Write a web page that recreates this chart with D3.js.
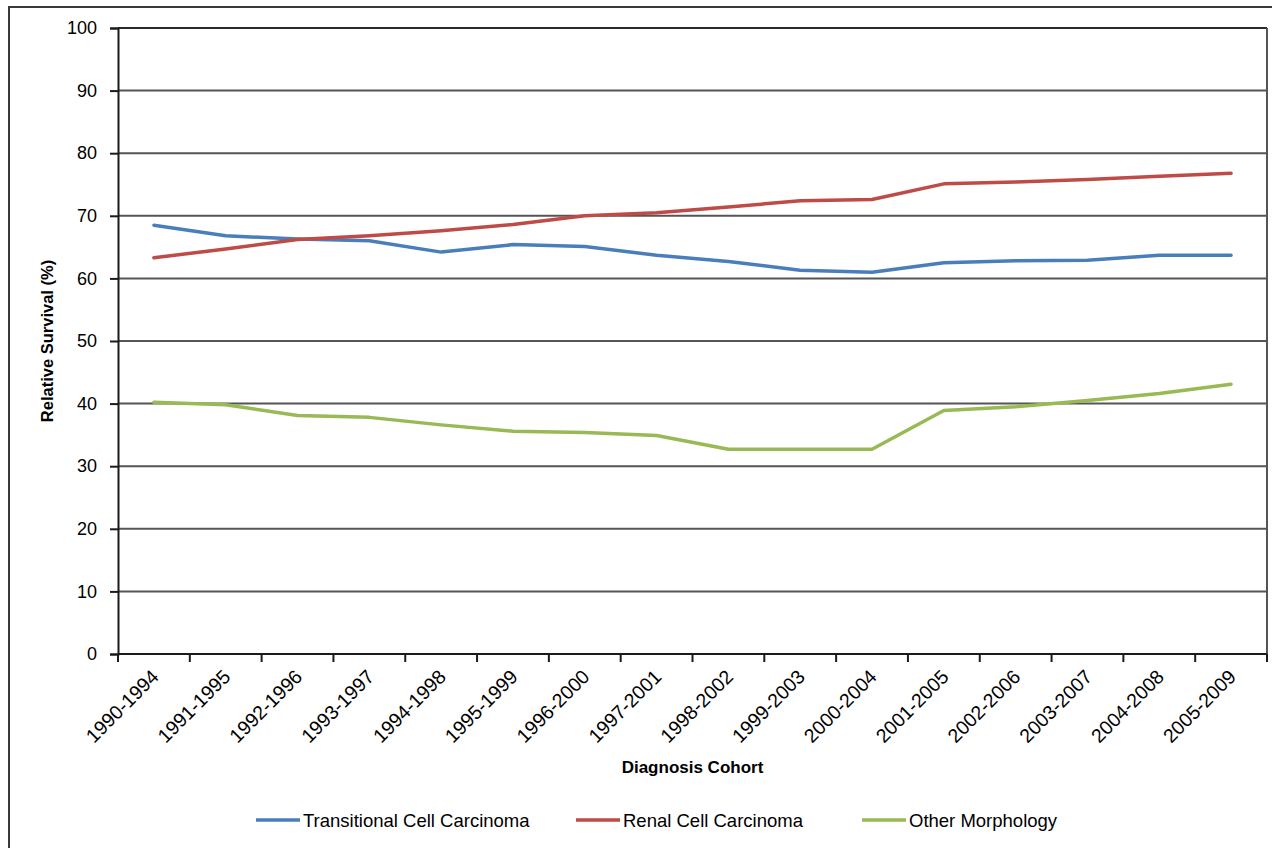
<!DOCTYPE html>
<html>
<head>
<meta charset="utf-8">
<script src="https://cdn.jsdelivr.net/npm/d3@7"></script>
<style>
  html, body { margin: 0; padding: 0; background: #fff; }
  svg text { font-family: "Liberation Sans", Arial, sans-serif; fill: #000; }
</style>
</head>
<body>
<svg id="chart" width="1272" height="848"></svg>
<script>
// Diagnosis cohorts (x categories)
const cohorts = ["1990-1994","1991-1995","1992-1996","1993-1997","1994-1998","1995-1999",
  "1996-2000","1997-2001","1998-2002","1999-2003","2000-2004","2001-2005",
  "2002-2006","2003-2007","2004-2008","2005-2009"];

// Relative survival (%) by morphology
const transitional = [68.5, 66.8, 66.3, 66.0, 64.2, 65.4, 65.1, 63.7, 62.7, 61.3, 61.0, 62.5, 62.8, 62.9, 63.7, 63.7];
const renal        = [63.3, 64.7, 66.2, 66.8, 67.6, 68.6, 70.0, 70.5, 71.4, 72.4, 72.6, 75.1, 75.4, 75.8, 76.3, 76.8];
const other        = [40.2, 39.8, 38.1, 37.8, 36.6, 35.6, 35.4, 34.9, 32.7, 32.7, 32.7, 38.9, 39.5, 40.5, 41.6, 43.1];

const yTicks = [0, 10, 20, 30, 40, 50, 60, 70, 80, 90, 100];

const series = [
  { name: "Transitional Cell Carcinoma", values: transitional, color: "#4a7ebb" },
  { name: "Renal Cell Carcinoma",        values: renal,        color: "#be4b48" },
  { name: "Other Morphology",            values: other,        color: "#98b954" }
];

const svg = d3.select("#chart");
const plot = { left: 118, right: 1267, top: 28, bottom: 654 };

// outer chart frame
svg.append("rect")
  .attr("x", 9).attr("y", 7).attr("width", 1300).attr("height", 900)
  .attr("fill", "none").attr("stroke", "#3a3a3a").attr("stroke-width", 2);

const x = d3.scaleBand().domain(cohorts).range([plot.left, plot.right]).padding(0);
const y = d3.scaleLinear().domain([0, 100]).range([plot.bottom, plot.top]);

// horizontal gridlines
svg.append("g").selectAll("line").data(yTicks.filter(t => t > 0)).join("line")
  .attr("x1", plot.left).attr("x2", plot.right)
  .attr("y1", d => y(d)).attr("y2", d => y(d))
  .attr("stroke", d => d === 100 ? "#2a2a2a" : "#555").attr("stroke-width", 2);

// right edge of plot area
svg.append("line")
  .attr("x1", plot.right).attr("x2", plot.right)
  .attr("y1", plot.top).attr("y2", plot.bottom)
  .attr("stroke", "#555").attr("stroke-width", 2);

// y axis
const yAxis = svg.append("g")
  .attr("transform", `translate(${plot.left},0)`)
  .call(d3.axisLeft(y).tickValues(yTicks).tickSize(8).tickPadding(13));
yAxis.select(".domain").attr("stroke", "#1a1a1a").attr("stroke-width", 2);
yAxis.selectAll(".tick line").attr("stroke", "#1a1a1a").attr("stroke-width", 2);
yAxis.selectAll(".tick text")
  .style("font-family", "'Liberation Sans', Arial, sans-serif")
  .style("font-size", "18px").attr("fill", "#000");

// x axis: ticks at category boundaries, labels at category centres
const bounds = cohorts.map(c => x(c)).concat([plot.right]);
const xAxis = svg.append("g");
xAxis.append("line")
  .attr("x1", plot.left).attr("x2", plot.right)
  .attr("y1", plot.bottom).attr("y2", plot.bottom)
  .attr("stroke", "#1a1a1a").attr("stroke-width", 2);
xAxis.selectAll("line.tick").data(bounds).join("line")
  .attr("class", "tick")
  .attr("x1", d => d).attr("x2", d => d)
  .attr("y1", plot.bottom).attr("y2", plot.bottom + 8)
  .attr("stroke", "#1a1a1a").attr("stroke-width", 2);
xAxis.selectAll("text").data(cohorts).join("text")
  .attr("transform", d => `translate(${x(d) + x.bandwidth() / 2 + 6},${plot.bottom + 24}) rotate(-45)`)
  .attr("text-anchor", "end")
  .style("font-size", "19.5px")
  .text(d => d);

// series lines
const line = d3.line()
  .x((d, i) => x(cohorts[i]) + x.bandwidth() / 2)
  .y(d => y(d));

svg.append("g").selectAll("path").data(series).join("path")
  .attr("d", d => line(d.values))
  .attr("fill", "none")
  .attr("stroke", d => d.color)
  .attr("stroke-width", 3.5)
  .attr("stroke-linejoin", "round")
  .attr("stroke-linecap", "round");

// axis titles
svg.append("text")
  .attr("transform", `translate(53,${(plot.top + plot.bottom) / 2}) rotate(-90)`)
  .attr("text-anchor", "middle")
  .style("font-size", "16.5px").style("font-weight", "bold")
  .text("Relative Survival (%)");

svg.append("text")
  .attr("x", (plot.left + plot.right) / 2).attr("y", 773)
  .attr("text-anchor", "middle")
  .style("font-size", "17px").style("font-weight", "bold")
  .text("Diagnosis Cohort");

// legend
const legendX = [256, 576, 862];
const legend = svg.append("g").selectAll("g").data(series).join("g")
  .attr("transform", (d, i) => `translate(${legendX[i]},820)`);
legend.append("line")
  .attr("x1", 0).attr("x2", 44).attr("y1", 0).attr("y2", 0)
  .attr("stroke", d => d.color).attr("stroke-width", 3.5);
legend.append("text")
  .attr("x", 47).attr("y", 6.5)
  .style("font-size", "18.5px")
  .text(d => d.name);
</script>
</body>
</html>
